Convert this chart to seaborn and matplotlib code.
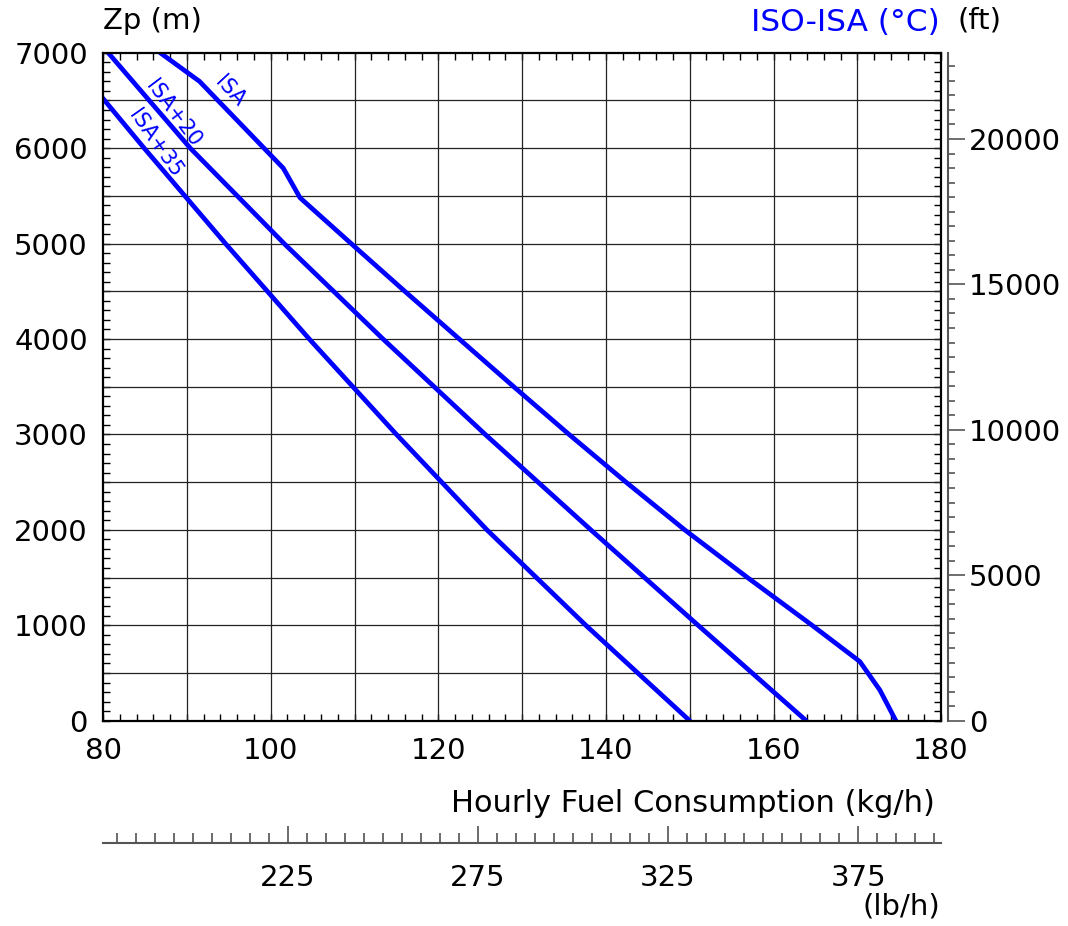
import numpy as np
import pandas as pd
import matplotlib
matplotlib.use("Agg")
import matplotlib.pyplot as plt
from matplotlib.ticker import MultipleLocator, FixedLocator
import seaborn as sns

# Cruise fuel flow versus pressure altitude for three temperature deviations
isa_zp = [7000, 6700, 5790, 5480, 5000, 4500, 4000, 3500, 3000, 2500, 2000, 1500, 1000, 620, 320, 0]
isa_fuel = [86.8, 91.5, 101.5, 103.5, 109.6, 116.0, 122.5, 129.0, 135.6, 142.4, 149.4, 156.9,
            164.6, 170.3, 172.7, 174.6]

isa20_zp = [7000, 6000, 5000, 4000, 3000, 2000, 1000, 0]
isa20_fuel = [80.6, 90.4, 101.6, 113.4, 125.6, 138.2, 151.0, 163.9]

isa35_zp = [6540, 6000, 5000, 4000, 3000, 2000, 1000, 0]
isa35_fuel = [79.8, 84.9, 94.6, 104.6, 115.0, 125.8, 137.6, 150.0]

series_names = ["ISA", "ISA+20", "ISA+35"]
label_fuel = [95.1, 88.4, 86.2]
label_zp = [6593, 6367, 6052]
label_rot = [-47, -53, -55]

zp_ticks = list(range(0, 7001, 1000))
fuel_ticks = list(range(80, 181, 20))
ft_ticks = [0, 5000, 10000, 15000, 20000]
lbh_ticks = [225, 275, 325, 375]

BLUE = "#0000ff"
W, H = 1068, 926

sns.set_theme(style="white")
plt.rcParams["font.family"] = ["DejaVu Sans"]
plt.rcParams["font.size"] = 21
for key in ("text.color", "axes.labelcolor", "xtick.color", "ytick.color"):
    plt.rcParams[key] = "black"

df = pd.concat([
    pd.DataFrame({"fuel": isa_fuel, "zp": isa_zp, "isa": "ISA"}),
    pd.DataFrame({"fuel": isa20_fuel, "zp": isa20_zp, "isa": "ISA+20"}),
    pd.DataFrame({"fuel": isa35_fuel, "zp": isa35_zp, "isa": "ISA+35"}),
], ignore_index=True)

fig = plt.figure(figsize=(W / 100, H / 100), dpi=100)
ax = fig.add_axes([103.1 / W, 1 - 720.7 / H, 838 / W, 668 / H])

# chart grid: every 10 kg/h and every 500 m
for gx in np.arange(90, 180, 10):
    ax.axvline(gx, color="#222222", lw=0.9, zorder=1)
for gy in np.arange(500, 7000, 500):
    ax.axhline(gy, color="#222222", lw=0.9, zorder=1)

sns.lineplot(data=df, x="fuel", y="zp", hue="isa", palette=[BLUE] * 3,
             sort=False, estimator=None, legend=False, lw=3.4, ax=ax, zorder=3)

for name, fx, zy, rot in zip(series_names, label_fuel, label_zp, label_rot):
    ax.text(fx, zy, name, color=BLUE, fontsize=15, rotation=rot,
            rotation_mode="anchor", ha="center", va="center", zorder=4)

ax.set_xlim(80, 180)
ax.set_ylim(0, 7000)
ax.set_xlabel("")
ax.set_ylabel("")
ax.xaxis.set_major_locator(FixedLocator(fuel_ticks))
ax.xaxis.set_minor_locator(MultipleLocator(2))
ax.yaxis.set_major_locator(FixedLocator(zp_ticks))
ax.yaxis.set_minor_locator(MultipleLocator(100))
ax.tick_params(which="both", direction="in", top=True, right=True, bottom=True, left=True,
               length=5, width=1, color="black", labelsize=21, labelcolor="black")
ax.tick_params(axis="x", pad=12)
ax.tick_params(axis="y", pad=11)
for sp in ax.spines.values():
    sp.set_color("black")
    sp.set_linewidth(1.6)
    sp.set_zorder(5)

# altitude in feet on a separate scale to the right
m2ft = lambda m: np.asarray(m) / 0.3048
ft2m = lambda f: np.asarray(f) * 0.3048
ax_ft = ax.secondary_yaxis(1.0086, functions=(m2ft, ft2m))
ax_ft.set_yticks(ft_ticks)
ax_ft.yaxis.set_minor_locator(MultipleLocator(500))
ax_ft.tick_params(which="major", direction="out", length=12, width=1.2, color="#555555",
                  labelsize=21, labelcolor="black", pad=3)
ax_ft.tick_params(which="minor", direction="out", length=5, width=1.2, color="#555555")
for sp in ax_ft.spines.values():
    sp.set_color("#555555")
    sp.set_linewidth(1.5)

# fuel flow in lb/h on a scale below the chart
kg2lb = lambda k: np.asarray(k) * 2.20462
lb2kg = lambda p: np.asarray(p) / 2.20462
ax_lb = ax.secondary_xaxis(-(843 - 720.7) / 668, functions=(kg2lb, lb2kg))
ax_lb.set_xticks(lbh_ticks)
ax_lb.xaxis.set_minor_locator(MultipleLocator(5))
ax_lb.tick_params(which="major", direction="in", length=12, width=1.1, color="#444444",
                  labelsize=21, labelcolor="black", pad=15)
ax_lb.tick_params(which="minor", direction="in", length=7, width=1.1, color="#444444")
for sp in ax_lb.spines.values():
    sp.set_color("#555555")
    sp.set_linewidth(1.5)

fig.text(103 / W, 1 - 29 / H, "Zp (m)", fontsize=21, ha="left", va="baseline")
fig.text(940 / W, 1 - 31 / H, "ISO-ISA (°C)", fontsize=22.5, color=BLUE, ha="right", va="baseline")
fig.text(958 / W, 1 - 29 / H, "(ft)", fontsize=21, ha="left", va="baseline")
fig.text(935 / W, 1 - 812 / H, "Hourly Fuel Consumption (kg/h)", fontsize=22,
         ha="right", va="baseline")
fig.text(940 / W, 1 - 915 / H, "(lb/h)", fontsize=21, ha="right", va="baseline")

fig.savefig("out.png", dpi=100, facecolor="white")
